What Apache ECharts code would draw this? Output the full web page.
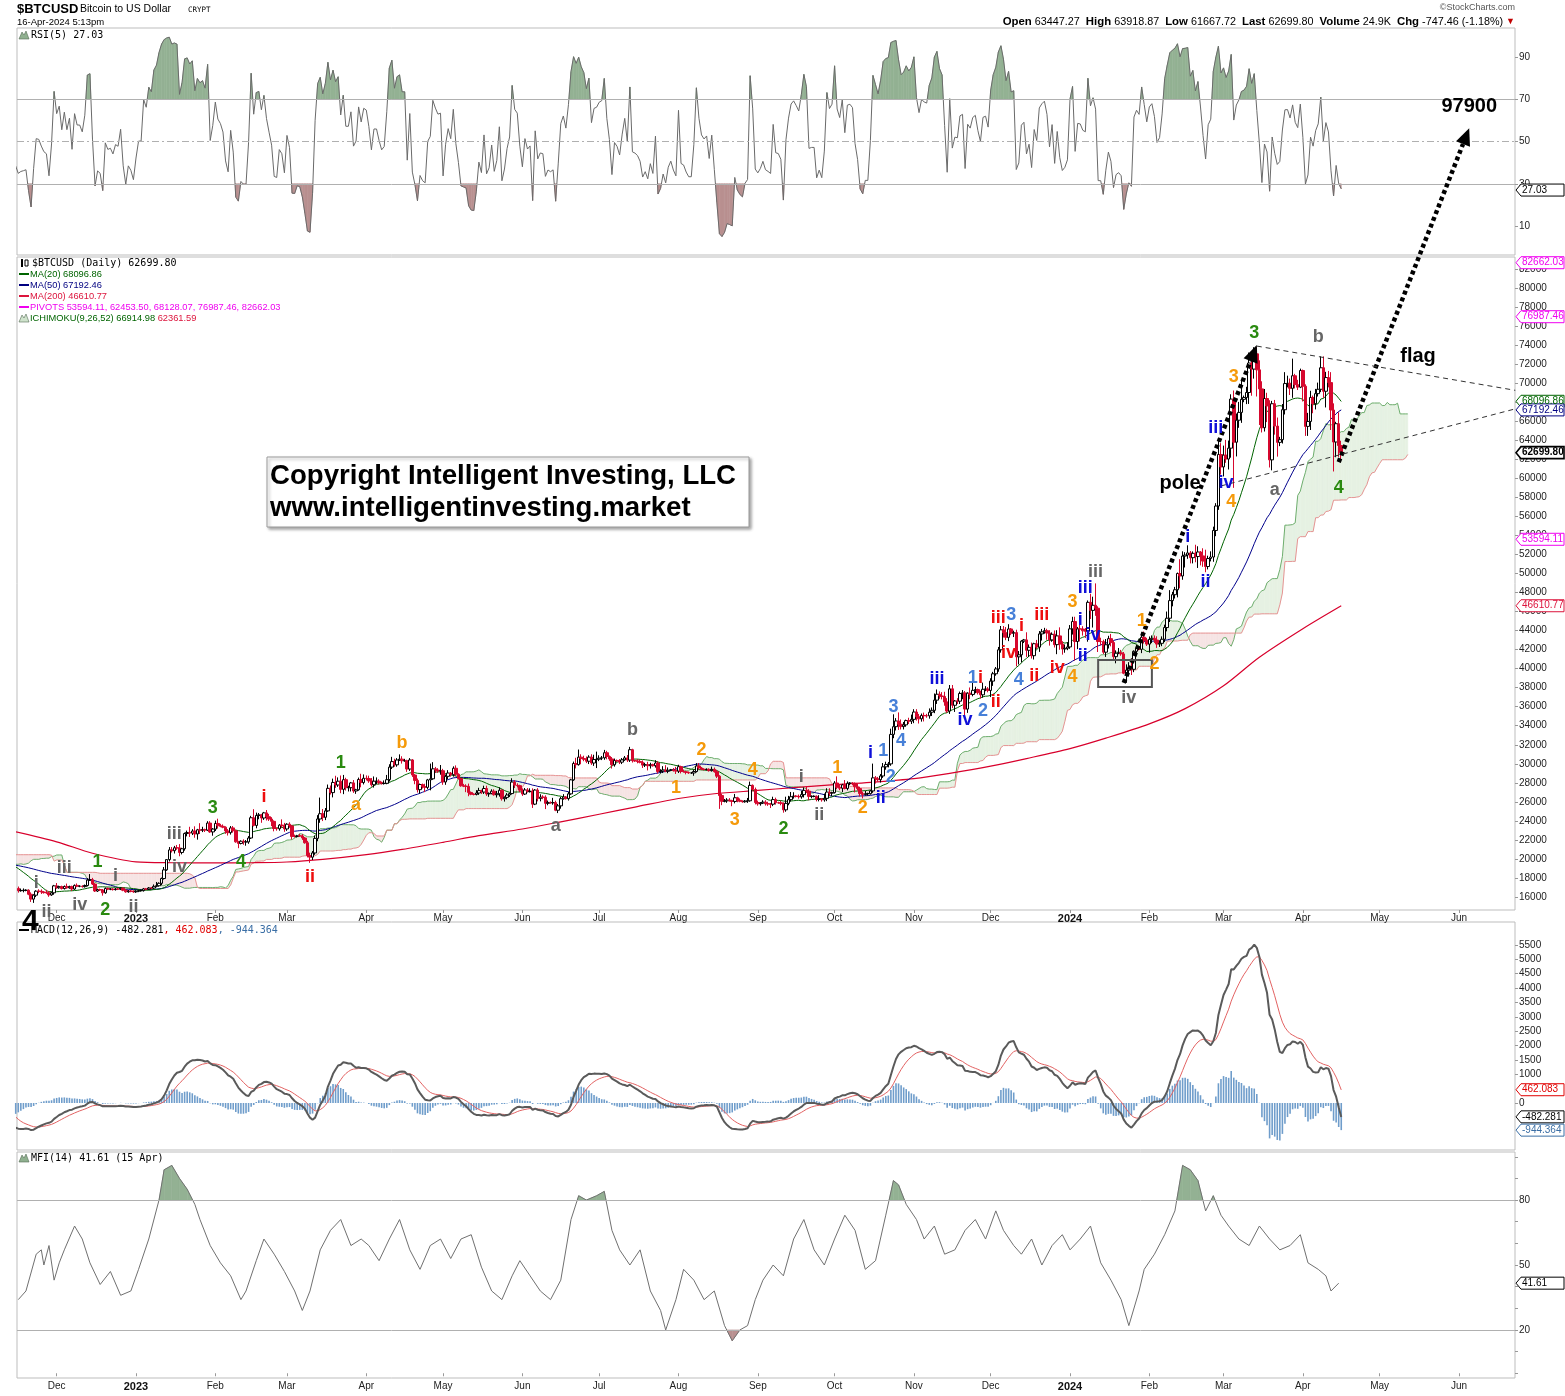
<!DOCTYPE html>
<html><head><meta charset="utf-8"><title>$BTCUSD</title>
<script src="https://cdn.jsdelivr.net/npm/echarts@6/dist/echarts.min.js"></script>
<style>html,body{margin:0;padding:0;background:#fff;}#chart{width:1565px;height:1396px;}</style>
</head><body><div id="chart"></div>
<script>
// ================= DATA =================
const startDate = '2022-08-29';
// daily closes in thousands of USD (open = previous close)
const closeK = [
20.30,19.81,20.05,
20.13,19.95,19.83,19.99,19.80,18.79,19.29,19.32,21.37,21.65,21.83,22.40,20.17,20.24,19.70,19.80,20.11,19.42,19.54,18.88,18.49,19.41,19.30,18.93,18.80,19.22,19.08,19.41,19.59,19.42,
19.31,19.06,19.63,20.34,20.16,19.96,19.53,19.42,19.45,19.14,19.05,19.16,19.38,19.19,19.07,19.27,19.55,19.33,19.13,19.04,19.17,19.21,19.57,19.33,20.09,20.77,20.29,20.60,20.82,20.63,20.49,
20.48,20.16,20.21,21.15,21.30,20.91,20.60,18.54,15.88,17.59,17.04,16.80,16.35,16.62,16.90,16.66,16.69,16.70,16.71,16.29,15.78,16.19,16.61,16.60,16.52,16.46,16.44,16.22,16.44,17.17,
16.97,17.09,16.89,17.11,16.97,17.09,16.84,17.22,17.13,17.13,17.09,17.21,17.78,17.81,17.36,16.63,16.78,16.74,16.44,16.90,16.82,16.83,16.78,16.84,16.83,16.92,16.71,16.55,16.63,16.60,16.54,
16.61,16.67,16.67,16.85,16.83,16.95,16.94,17.12,17.18,17.44,17.94,18.85,19.93,20.95,20.87,21.17,21.16,20.68,21.07,22.67,22.78,22.71,22.93,22.63,23.06,23.02,23.08,23.03,23.77,22.84,23.14,
23.73,23.49,23.43,23.33,22.94,22.76,23.26,22.96,21.80,21.63,21.86,21.79,21.79,22.20,24.33,23.52,24.57,24.63,24.30,24.84,24.44,24.19,23.95,23.20,23.17,23.56,23.49,23.15,
23.65,23.47,22.36,22.35,22.43,22.41,22.20,21.70,20.36,20.19,20.63,22.16,24.20,24.75,24.38,25.05,27.42,26.97,28.04,27.77,28.17,27.31,28.33,27.49,27.49,27.99,27.14,27.27,28.35,28.03,28.48,
28.45,28.20,27.80,28.17,28.17,28.03,27.92,27.95,28.33,29.65,30.23,29.89,30.40,30.49,30.32,30.32,29.45,30.40,28.82,28.25,27.28,27.82,27.60,27.52,28.31,28.42,29.47,29.34,29.25,29.27,
28.09,28.68,29.03,28.85,29.53,28.90,28.45,27.69,27.65,27.62,26.99,26.80,26.78,26.93,27.18,27.03,27.40,26.83,26.89,27.12,26.75,26.85,27.22,26.33,26.47,26.72,26.87,28.08,27.75,27.70,27.22,
26.82,27.25,27.08,27.12,25.76,27.24,26.35,26.50,26.48,25.84,25.94,25.90,25.92,25.12,25.58,26.33,26.51,26.34,26.84,28.31,30.03,29.91,30.70,30.55,30.47,30.27,30.70,30.08,30.45,30.48,
30.59,30.62,31.16,30.77,30.51,29.90,30.35,30.29,30.17,30.41,30.62,30.39,31.48,30.33,30.30,30.25,30.15,29.86,29.91,29.80,29.91,29.80,30.08,29.18,29.23,29.35,29.21,29.32,29.36,29.28,29.23,
29.70,29.19,29.17,29.09,29.04,29.04,29.19,29.77,29.56,29.43,29.40,29.42,29.28,29.41,29.17,28.70,26.66,26.05,26.10,26.19,26.12,26.04,26.43,26.16,26.06,26.01,26.09,26.11,27.73,27.30,25.93,
25.80,25.87,25.97,25.81,25.78,25.75,26.24,25.91,25.90,25.84,25.16,25.84,26.23,26.54,26.61,26.57,26.53,26.76,27.21,27.13,26.57,26.58,26.58,26.25,26.30,26.22,26.37,27.03,26.91,26.97,
27.98,27.53,27.43,27.79,27.41,27.95,27.97,27.94,27.59,27.39,26.87,26.76,26.86,26.86,27.15,28.52,28.42,28.33,28.72,29.68,29.92,29.99,33.09,33.90,34.50,34.16,33.91,34.09,34.54,34.48,34.67,
35.44,34.94,34.73,35.08,35.05,35.04,35.42,35.62,36.69,37.31,37.13,37.07,36.50,35.54,37.88,36.15,36.60,36.58,37.39,37.45,35.75,37.42,37.29,37.72,37.80,37.48,37.25,37.83,37.86,37.71,
38.69,39.46,39.97,41.98,44.08,43.77,43.29,44.17,43.72,43.79,41.24,41.45,42.89,43.02,41.93,42.24,41.36,42.62,42.26,43.65,43.87,43.99,43.74,43.02,43.61,42.52,43.44,42.58,42.07,42.14,42.28,
44.18,44.95,42.85,44.18,44.16,43.97,43.93,46.97,46.12,46.66,46.35,42.85,42.84,41.73,42.51,43.15,42.74,41.26,41.62,41.67,41.55,39.51,39.85,40.08,39.93,41.82,42.12,42.03,43.30,42.94,42.58,
43.08,43.19,43.00,42.58,42.66,43.09,44.32,45.30,47.15,47.77,48.29,50.00,49.74,51.83,51.94,52.16,51.66,52.12,51.78,52.26,51.85,51.30,50.73,51.57,51.73,54.52,57.09,62.50,61.20,
62.44,62.03,63.17,68.33,63.80,66.11,66.93,68.30,68.50,69.02,72.12,71.48,73.08,71.40,69.40,65.32,68.39,67.61,61.94,67.84,65.49,63.78,64.06,67.21,69.96,69.99,69.46,70.78,69.85,69.58,71.33,
69.68,65.46,65.98,68.50,67.84,68.90,69.36,71.62,69.15,70.59,70.06,67.18,63.82,65.74,63.45,62.70
];
// upper wick above the body, in hundreds of USD
const upWick = [
4,3,5,
3,2,1,1,2,3,2,3,2,3,3,3,2,3,2,2,2,2,2,1,5,6,2,2,1,3,12,6,3,3,
2,2,1,2,3,1,2,1,1,2,1,1,1,8,2,1,2,4,1,2,1,1,1,3,2,2,5,2,2,2,2,
3,3,3,2,3,2,3,1,1,5,1,2,1,3,3,2,2,2,1,1,2,1,1,2,2,1,3,2,1,1,
3,1,1,1,3,1,1,1,2,1,1,1,2,6,2,1,1,1,1,1,1,1,1,1,1,1,1,1,1,1,1,
1,1,1,1,1,1,1,2,4,1,1,3,0,3,3,2,3,4,1,1,2,6,2,5,1,7,3,1,2,2,1,
3,5,2,2,1,2,2,2,1,1,1,2,2,2,2,9,3,2,1,1,3,3,2,1,1,1,6,3,
1,2,1,2,1,2,2,1,2,3,2,3,4,17,5,3,4,3,4,7,4,6,5,2,2,1,3,1,2,6,4,
3,3,3,5,4,2,1,3,5,3,5,3,2,5,3,2,1,2,1,1,2,1,1,3,1,16,7,2,2,6,
2,2,3,1,2,3,1,1,2,2,3,1,1,3,3,1,3,3,1,2,2,3,3,1,1,2,1,4,2,2,1,
2,2,2,3,3,1,2,3,2,2,2,1,5,2,2,2,3,1,2,1,2,6,8,3,3,3,2,3,5,8,
3,2,3,2,1,2,2,1,2,2,2,3,3,1,1,2,2,2,2,3,2,1,3,2,2,4,5,3,1,2,4,
2,1,2,1,1,1,2,3,3,1,1,1,1,3,2,2,1,2,2,2,2,1,4,1,2,1,1,3,4,1,2,
2,1,2,2,2,1,3,2,1,2,1,7,4,5,4,1,2,4,3,4,2,1,1,1,4,1,5,4,4,1,
2,7,3,1,5,2,1,1,1,3,2,2,3,1,1,15,2,2,2,4,3,2,6,13,3,9,5,3,1,3,5,
3,3,3,2,3,2,4,3,7,5,3,4,5,4,4,4,1,3,2,3,2,1,6,10,3,1,2,7,3,2,
3,2,2,3,4,4,6,5,1,2,3,4,1,1,8,3,5,1,4,3,3,3,2,3,2,4,6,9,3,4,5,
4,5,5,2,9,3,3,2,9,9,23,2,4,2,6,3,5,2,3,5,3,2,6,6,10,1,4,2,5,6,3,
3,3,3,4,3,3,3,7,11,3,3,1,15,5,3,8,2,2,9,6,1,8,12,3,6,4,3,15,12,
10,16,8,5,9,7,11,20,2,6,11,8,7,7,10,8,10,6,6,3,4,9,3,6,12,8,5,18,2,5,2,
1,2,9,7,2,5,7,12,12,6,7,11,7,2,12,5
];
// lower wick below the body, in hundreds of USD
const dnWick = [
3,2,4,
3,2,1,3,2,2,2,2,2,2,3,2,2,3,3,4,2,2,3,3,3,1,3,3,2,2,2,7,3,3,
2,3,1,2,3,2,2,1,1,1,2,2,6,2,1,1,1,2,2,2,3,1,1,1,1,2,1,4,1,4,2,
2,2,2,3,2,1,3,14,3,1,6,2,6,3,3,2,1,2,1,1,3,4,2,2,2,1,1,2,1,2,
1,1,1,1,1,1,2,1,1,1,1,1,1,1,1,1,1,1,3,1,1,1,1,1,1,1,1,1,1,1,1,
1,1,1,1,1,1,1,1,1,1,2,1,1,2,2,3,2,4,2,2,3,4,2,4,6,4,2,2,1,1,4,
2,3,1,1,3,3,2,2,1,5,1,3,4,2,1,1,3,4,5,2,4,2,5,3,2,2,2,3,
2,2,3,1,1,1,2,1,2,6,3,2,3,4,4,3,1,2,5,3,2,4,5,3,4,4,2,3,1,5,2,
2,2,2,3,3,2,1,1,1,2,2,2,2,1,3,1,3,2,2,4,3,4,2,5,2,11,1,3,2,4,
3,3,3,2,2,2,1,1,1,6,4,1,1,1,2,2,2,2,3,1,1,3,3,2,3,2,2,1,3,2,2,
2,1,1,1,4,1,3,3,2,6,2,1,2,1,3,3,1,1,2,1,1,4,1,6,2,2,3,2,3,9,
2,2,2,3,2,4,2,1,2,2,1,2,2,2,1,2,1,3,2,5,3,1,2,2,2,2,1,2,1,1,3,
2,2,1,2,1,1,3,1,2,1,1,1,1,1,1,2,14,4,1,2,1,5,2,2,1,1,1,2,1,1,2,
2,2,1,2,2,4,2,2,1,2,3,2,2,2,2,1,2,2,3,2,4,2,1,2,2,2,2,3,3,3,
1,2,2,4,1,2,2,2,6,2,3,4,1,2,1,2,5,2,3,2,3,3,2,4,4,6,3,3,2,3,3,
4,4,5,3,6,2,3,4,3,4,3,3,4,2,3,3,7,3,3,6,7,4,5,2,3,2,4,3,2,2,
7,5,2,3,3,5,3,4,2,4,10,8,8,2,7,7,3,4,2,5,7,2,7,6,2,3,10,6,6,4,2,
2,6,20,8,13,5,7,11,9,18,8,11,4,2,5,4,4,4,7,1,2,1,10,6,6,3,2,1,4,3,2,
9,4,3,4,3,3,3,4,4,6,4,8,13,4,12,4,6,6,6,12,10,6,6,3,3,5,6,4,8,
10,4,11,10,48,15,8,11,3,7,12,28,10,28,38,5,4,17,8,11,9,15,4,4,5,4,7,10,4,3,1,
16,10,10,9,10,6,3,3,7,17,5,21,31,16,12,10
];
// 200-day moving average
const ma200Pts = [
['2022-11-15',22850],['2022-12-01',21800],['2022-12-15',20600],['2023-01-01',19700],['2023-01-15',19600],['2023-02-01',19580],
['2023-02-15',19600],['2023-03-01',19680],['2023-03-15',19950],['2023-04-01',20450],['2023-04-15',21000],['2023-05-01',21750],
['2023-05-15',22450],['2023-06-01',23150],['2023-06-15',23850],['2023-07-01',24700],['2023-07-15',25450],['2023-08-01',26350],
['2023-08-15',26850],['2023-09-01',27200],['2023-09-15',27500],['2023-10-01',27800],['2023-10-15',28050],['2023-11-01',28450],
['2023-11-15',29000],['2023-12-01',29750],['2023-12-15',30550],['2024-01-01',31600],['2024-01-15',32700],['2024-02-01',34200],
['2024-02-15',35800],['2024-03-01',38200],['2024-03-15',41200],['2024-04-01',44200],['2024-04-16',46610.77]
];
// MFI(14)
const mfiPts = [
['2022-11-16',34],['2022-11-19',38],['2022-11-23',55],['2022-11-25',57],['2022-11-26',50],['2022-11-28',59],['2022-11-30',43],
['2022-12-02',51],['2022-12-04',57],['2022-12-08',68],['2022-12-11',62],['2022-12-14',51],['2022-12-18',41],['2022-12-22',47],
['2022-12-26',36],['2022-12-30',38],['2023-01-02',48],['2023-01-06',62],['2023-01-10',80],['2023-01-12',94],['2023-01-15',96],
['2023-01-18',90],['2023-01-21',85],['2023-01-24',78],['2023-01-26',71],['2023-01-30',59],['2023-02-03',51],['2023-02-07',45],
['2023-02-11',34],['2023-02-13',38],['2023-02-17',52],['2023-02-20',62],['2023-02-24',55],['2023-02-28',47],['2023-03-04',38],
['2023-03-07',29],['2023-03-10',38],['2023-03-14',57],['2023-03-18',66],['2023-03-22',71],['2023-03-26',59],['2023-03-30',62],
['2023-04-02',59],['2023-04-06',52],['2023-04-10',62],['2023-04-14',71],['2023-04-18',57],['2023-04-22',48],['2023-04-26',59],
['2023-04-30',62],['2023-05-04',53],['2023-05-08',62],['2023-05-12',64],['2023-05-16',49],['2023-05-20',38],['2023-05-24',34],
['2023-05-28',45],['2023-05-31',52],['2023-06-04',45],['2023-06-08',38],['2023-06-12',34],['2023-06-16',43],['2023-06-20',71],
['2023-06-23',82],['2023-06-26',80],['2023-06-30',82],['2023-07-03',84],['2023-07-06',66],['2023-07-09',57],['2023-07-13',50],
['2023-07-17',57],['2023-07-21',38],['2023-07-25',29],['2023-07-27',20],['2023-07-31',34],['2023-08-03',48],['2023-08-07',43],
['2023-08-11',34],['2023-08-15',38],['2023-08-19',22],['2023-08-22',15],['2023-08-25',20],['2023-08-28',22],['2023-08-31',34],
['2023-09-03',43],['2023-09-07',50],['2023-09-11',45],['2023-09-15',62],['2023-09-19',71],['2023-09-23',57],['2023-09-27',50],
['2023-10-01',62],['2023-10-05',73],['2023-10-09',66],['2023-10-13',48],['2023-10-17',52],['2023-10-21',73],['2023-10-24',89],
['2023-10-26',87],['2023-10-29',78],['2023-11-02',71],['2023-11-05',62],['2023-11-09',68],['2023-11-13',55],['2023-11-17',57],
['2023-11-21',66],['2023-11-25',71],['2023-11-29',62],['2023-12-03',75],['2023-12-06',66],['2023-12-10',59],['2023-12-13',55],
['2023-12-17',62],['2023-12-21',50],['2023-12-25',59],['2023-12-29',64],['2024-01-01',57],['2024-01-05',62],['2024-01-09',68],
['2024-01-13',51],['2024-01-17',43],['2024-01-21',34],['2024-01-24',22],['2024-01-28',38],['2024-01-30',48],['2024-02-03',55],
['2024-02-07',64],['2024-02-11',75],['2024-02-14',96],['2024-02-17',94],['2024-02-20',89],['2024-02-23',75],['2024-02-26',82],
['2024-02-29',73],['2024-03-03',68],['2024-03-07',62],['2024-03-11',59],['2024-03-15',68],['2024-03-19',62],['2024-03-23',57],
['2024-03-27',59],['2024-03-31',64],['2024-04-03',51],['2024-04-07',48],['2024-04-10',45],['2024-04-12',38],['2024-04-15',41.61]
];
// axis tick labels
const priceTicks = [16000,18000,20000,22000,24000,26000,28000,30000,32000,34000,36000,38000,40000,42000,44000,46000,48000,50000,52000,54000,56000,58000,60000,62000,64000,66000,68000,70000,72000,74000,76000,78000,80000,82000];
const rsiTicks = [10,30,50,70,90];
const macdTicks = [0,1000,1500,2000,2500,3000,3500,4000,4500,5000,5500];
const mfiTicks = [20,50,80];
const mfiMinorTicks = [0,10,20,30,40,50,60,70,80,90,100];
const monthTicks = ['2022-12-01','2023-01-01','2023-02-01','2023-03-01','2023-04-01','2023-05-01','2023-06-01','2023-07-01','2023-08-01','2023-09-01','2023-10-01','2023-11-01','2023-12-01','2024-01-01','2024-02-01','2024-03-01','2024-04-01','2024-05-01','2024-06-01'];
const monthNames = ['Jan','Feb','Mar','Apr','May','Jun','Jul','Aug','Sep','Oct','Nov','Dec'];
// wave annotations: [date, price, text, colour key]
const waveLabels = [
['2022-11-23',17470,'i','g'],['2022-11-27',14420,'ii','g'],['2022-12-04',19050,'iii','g'],['2022-12-10',15160,'iv','g'],
['2022-12-17',19680,'1','G'],['2022-12-20',14640,'2','G'],['2022-12-24',18210,'i','g'],['2022-12-31',14950,'ii','g'],
['2023-01-16',22620,'iii','g'],['2023-01-18',19150,'iv','g'],['2023-01-31',25350,'3','G'],['2023-02-11',19680,'4','G'],
['2023-02-20',26510,'i','r'],['2023-03-10',18100,'ii','r'],['2023-03-22',30080,'1','G'],['2023-03-28',25670,'a','o'],
['2023-04-15',32190,'b','o'],['2023-06-14',23460,'a','g'],['2023-07-14',33550,'b','g'],['2023-07-31',27460,'1','o'],
['2023-08-10',31450,'2','o'],['2023-08-23',24090,'3','o'],['2023-08-30',29350,'4','o'],['2023-09-11',23150,'2','G'],
['2023-09-18',28610,'i','g'],['2023-09-25',24620,'ii','g'],['2023-10-02',29560,'1','o'],['2023-10-12',25350,'2','o'],
['2023-10-15',31130,'i','b'],['2023-10-19',26400,'ii','b'],['2023-10-20',31350,'1','l'],['2023-10-23',28610,'2','l'],
['2023-10-24',35970,'3','l'],['2023-10-27',32400,'4','l'],['2023-11-10',38910,'iii','b'],['2023-11-21',34600,'iv','b'],
['2023-11-24',39020,'1','l'],['2023-11-27',39020,'i','r'],['2023-11-28',35550,'2','l'],['2023-12-03',36490,'ii','r'],
['2023-12-04',45320,'iii','r'],['2023-12-08',41640,'iv','r'],['2023-12-09',45640,'3','l'],['2023-12-12',38810,'4','l'],
['2023-12-13',44480,'i','r'],['2023-12-18',39230,'ii','r'],['2023-12-21',45640,'iii','r'],['2023-12-27',40070,'iv','r'],
['2024-01-02',39120,'4','o'],['2024-01-02',47000,'3','o'],['2024-01-05',45110,'i','b'],['2024-01-06',41330,'ii','b'],
['2024-01-07',48480,'iii','b'],['2024-01-10',43540,'iv','b'],['2024-01-11',50160,'iii','g'],['2024-01-24',36910,'iv','g'],
['2024-01-29',45010,'1','o'],['2024-02-03',40490,'2','o'],['2024-02-13',59510,'pole','k'],['2024-02-16',53840,'i','b'],
['2024-02-23',49110,'ii','b'],['2024-02-27',65290,'iii','b'],['2024-03-02',59510,'iv','b'],['2024-03-04',57510,'4','o'],
['2024-03-05',70650,'3','o'],['2024-03-13',75280,'3','G'],['2024-03-21',58780,'a','g'],['2024-04-07',74860,'b','g'],
['2024-04-15',58990,'4','G'],['2024-05-16',72760,'flag','k'],['2024-06-05',99030,'97900','k']
];
// drawn trend lines: [date1, price1, date2, price2, kind]
const trendLines = [
['2024-01-22',38500,'2024-03-14',74000,'arrow'],
['2024-04-15',61700,'2024-06-05',96800,'arrow'],
['2024-03-14',73900,'2024-06-23',69250,'dash'],
['2024-02-29',59200,'2024-06-23',67300,'dash'],
['2024-01-12',40900,'2024-02-02',38070,'box']
];
// right-edge value tags: [axis index, text, colour key]
const tagDefs = [
[1,'82662.03','m'],[1,'76987.46','m'],[1,'68096.86','G'],[1,'67192.46','n'],[1,'62699.80','k'],[1,'53594.11','m'],[1,'46610.77','c'],
[0,'27.03','k'],[2,'462.083','r'],[2,'-482.281','k'],[2,'-944.364','s'],[3,'41.61','k']
];

// ================= BUILD =================
const DAY = 86400000;
const D = s => { const p = s.split('-').map(Number); return Date.UTC(p[0], p[1]-1, p[2]); };
const XMIN = D('2022-11-15') + DAY*0.5, XMAX = D('2024-06-22') + DAY*0.9;
const N = Math.min(closeK.length, upWick.length, dnWick.length);
const T=[],O=[],C=[],H=[],L=[];
for (let i=0;i<N;i++){ const c=closeK[i]*1000, o=i?C[i-1]:c; T.push(D(startDate)+i*DAY); O.push(o); C.push(c);
  H.push(Math.max(o,c)+upWick[i]*100); L.push(Math.min(o,c)-dnWick[i]*100); }
let iv=0; while(iv<N && T[iv]<XMIN-DAY) iv++;
const sma = n => C.map((_,i)=> i<n-1 ? null : C.slice(i-n+1,i+1).reduce((a,b)=>a+b,0)/n);
const ema = (a,n) => { const k=2/(n+1); let e=null; return a.map(v=>{ if(v==null) return null; e = e==null ? v : v*k+e*(1-k); return e; }); };
function rsiCalc(n){ const out=new Array(N).fill(null); let g=0,l=0;
  for(let i=1;i<=n;i++){ const d=C[i]-C[i-1]; if(d>0) g+=d; else l-=d; } g/=n; l/=n; out[n]=100-100/(1+g/l);
  for(let i=n+1;i<N;i++){ const d=C[i]-C[i-1]; g=(g*(n-1)+Math.max(d,0))/n; l=(l*(n-1)+Math.max(-d,0))/n; out[i]= l===0?100:100-100/(1+g/l); }
  return out; }
const ma20=sma(20), ma50=sma(50);
const e12=ema(C,12), e26=ema(C,26); const macd=C.map((_,i)=>e12[i]-e26[i]); const sig=ema(macd,9); const hist=macd.map((v,i)=>v-sig[i]);
const rsi=rsiCalc(5);
const mid=(i,n)=>{ let hi=-1e12,lo=1e12; for(let j=Math.max(0,i-n+1);j<=i;j++){ if(H[j]>hi) hi=H[j]; if(L[j]<lo) lo=L[j]; } return (hi+lo)/2; };
const cloud=[]; for(let i=51;i<N;i++) cloud.push([T[i]+26*DAY,(mid(i,9)+mid(i,26))/2, mid(i,52)]);
const cloudVis = cloud.filter(p=>p[0]>=XMIN-2*DAY);
const cloudSeg=[]; for(let k=0;k<cloudVis.length-1;k++){ const a=cloudVis[k], b=cloudVis[k+1]; cloudSeg.push([a[0],a[1],a[2],b[0],b[1],b[2]]); }
const lineData = arr => { const r=[]; for(let i=Math.max(0,iv-1);i<N;i++) if(arr[i]!=null) r.push([T[i],arr[i]]); return r; };
const candles=[]; for(let i=iv;i<N;i++) candles.push([T[i],O[i],C[i],L[i],H[i]]);
const segs = pts => { const r=[]; for(let k=0;k<pts.length-1;k++) r.push([pts[k][0],pts[k][1],pts[k+1][0],pts[k+1][1]]); return r; };
const rsiPts = lineData(rsi);
const mfiData = mfiPts.map(p=>[D(p[0]),p[1]]);
const histData=[]; for(let i=iv;i<N;i++) histData.push([T[i],hist[i]]);

const FONT='Liberation Sans, Arial, sans-serif';
const LC={g:'#666666',G:'#2a8a10',r:'#ee0d0d',o:'#f59a0a',b:'#0f0fd8',l:'#4780d8',k:'#000000'};
const TC={m:'#f000f0',G:'#006400',n:'#000080',k:'#000000',c:'#dc143c',r:'#e00000',s:'#3a6ea5'};
const GREENFILL='#e6f1e3', PINKFILL='#f6e4e4';

function bandRender(params, api){
  const x0=api.value(0),a0=api.value(1),b0=api.value(2),x1=api.value(3),a1=api.value(4),b1=api.value(5);
  const d0=a0-b0, d1=a1-b1, ch=[];
  const poly=(pts,f)=>ch.push({type:'polygon',shape:{points:pts.map(p=>api.coord(p))},style:{fill:f,stroke:f,lineWidth:0.6},silent:true});
  if(d0*d1>=0) poly([[x0,a0],[x1,a1],[x1,b1],[x0,b0]], (d0+d1)>=0?GREENFILL:PINKFILL);
  else { const f=d0/(d0-d1), xc=x0+f*(x1-x0), yc=a0+f*(a1-a0);
    poly([[x0,a0],[xc,yc],[x0,b0]], d0>0?GREENFILL:PINKFILL); poly([[xc,yc],[x1,a1],[x1,b1]], d1>0?GREENFILL:PINKFILL); }
  return {type:'group',children:ch};
}
function threshRender(th, above, color){ return function(params, api){
  const x0=api.value(0),r0=api.value(1),x1=api.value(2),r1=api.value(3);
  const s0=above?r0-th:th-r0, s1=above?r1-th:th-r1;
  if(s0<=0 && s1<=0) return {type:'group',children:[]};
  let pts;
  if(s0>0 && s1>0) pts=[[x0,th],[x0,r0],[x1,r1],[x1,th]];
  else { const f=s0/(s0-s1), xc=x0+f*(x1-x0); pts = s0>0 ? [[x0,th],[x0,r0],[xc,th]] : [[xc,th],[x1,r1],[x1,th]]; }
  return {type:'polygon',shape:{points:pts.map(p=>api.coord(p))},style:{fill:color,stroke:color,lineWidth:0.6}};
};}
function trendRender(params, api){
  const kind=trendLines[params.dataIndex][4];
  const p0=api.coord([api.value(0),api.value(1)]), p1=api.coord([api.value(2),api.value(3)]);
  if(kind==='box') return {type:'rect',shape:{x:Math.min(p0[0],p1[0]),y:Math.min(p0[1],p1[1]),width:Math.abs(p1[0]-p0[0]),height:Math.abs(p1[1]-p0[1])},style:{fill:'none',stroke:'#555',lineWidth:2}};
  if(kind==='dash') return {type:'line',shape:{x1:p0[0],y1:p0[1],x2:p1[0],y2:p1[1]},style:{stroke:'#333',lineWidth:1,lineDash:[5,4]}};
  const dx=p1[0]-p0[0], dy=p1[1]-p0[1], len=Math.hypot(dx,dy), ux=dx/len, uy=dy/len, nx=-uy, ny=ux;
  const hl=17, hw=7.5, bx=p1[0]-ux*hl, by=p1[1]-uy*hl;
  return {type:'group',children:[
    {type:'line',shape:{x1:p0[0],y1:p0[1],x2:bx,y2:by},style:{stroke:'#000',lineWidth:4.5,lineDash:[4,3.2],lineCap:'butt'}},
    {type:'polygon',shape:{points:[[p1[0],p1[1]],[bx+nx*hw,by+ny*hw],[bx-nx*hw,by-ny*hw]]},style:{fill:'#000'}}
  ]};
}
function labelRender(params, api){
  const w=waveLabels[params.dataIndex];
  const p=api.coord([api.value(0),api.value(1)]);
  const size = w[2].length>3 ? 20 : 18;
  return {type:'text',x:p[0],y:p[1],style:{text:w[2],fill:LC[w[3]],font:'bold '+size+'px '+FONT,align:'center',verticalAlign:'middle'}};
}

const grids=[{top:28,height:227},{top:257,height:653},{top:922,height:228},{top:1152,height:226}].map(g=>Object.assign({left:17,width:1498,show:true,borderColor:'#bdbdbd',borderWidth:1,backgroundColor:'#fff',containLabel:false,outerBoundsMode:'none'},g));
const mTicks = monthTicks.map(D);
function xAx(gi, show){ return {type:'value',gridIndex:gi,min:XMIN,max:XMAX,scale:true,splitLine:{show:false},axisLine:{show:false},
  axisTick:{show:show,customValues:mTicks,length:3,lineStyle:{color:'#999'}},
  axisLabel:{show:show,customValues:mTicks,margin:3,fontSize:10,color:'#222',fontFamily:FONT,hideOverlap:false,showMinLabel:true,showMaxLabel:true,
    formatter:v=>{ const d=new Date(v); const m=d.getUTCMonth(); return m===0?'{y|'+d.getUTCFullYear()+'}':monthNames[m]; },
    rich:{y:{fontWeight:'bold',fontSize:11,color:'#111',fontFamily:FONT}}}}; }
function yAx(gi,min,max,ticks,minor){ return {type:'value',gridIndex:gi,position:'right',min:min,max:max,scale:true,splitLine:{show:false},axisLine:{show:false},
  axisTick:{show:true,length:3,customValues:minor||ticks,lineStyle:{color:'#999'}},
  axisLabel:{show:true,customValues:ticks,fontSize:10,color:'#222',fontFamily:FONT,margin:4,hideOverlap:false,formatter:v=>String(v)}}; }

const hline=(v,dash)=>({yAxis:v,lineStyle:{color:'#b0b0b0',width:1,type:dash||'solid'}});
const option = {
  animation:false, backgroundColor:'#fff',
  grid:grids,
  xAxis:[xAx(0,false),xAx(1,true),xAx(2,false),xAx(3,true)],
  yAxis:[yAx(0,-3.7,103.7,rsiTicks),yAx(1,14634,83261,priceTicks),yAx(2,-1636,6300,macdTicks),yAx(3,-2.2,102.2,mfiTicks,mfiMinorTicks)],
  series:[
    {type:'custom',xAxisIndex:0,yAxisIndex:0,renderItem:threshRender(70,true,'#93b193'),data:segs(rsiPts),encode:{x:[0,2],y:[1,3]},clip:true,silent:true,z:1},
    {type:'custom',xAxisIndex:0,yAxisIndex:0,renderItem:threshRender(30,false,'#b99090'),data:segs(rsiPts),encode:{x:[0,2],y:[1,3]},clip:true,silent:true,z:1},
    {type:'line',xAxisIndex:0,yAxisIndex:0,data:rsiPts,showSymbol:false,lineStyle:{color:'#6a6a6a',width:1},silent:true,z:3,
      markLine:{silent:true,symbol:['none','none'],label:{show:false},data:[hline(70),hline(30),hline(50,[7,3,2,3])]}},
    {type:'custom',xAxisIndex:1,yAxisIndex:1,renderItem:bandRender,data:cloudSeg,encode:{x:[0,3],y:[1,2,4,5]},clip:true,silent:true,z:1},
    {type:'line',xAxisIndex:1,yAxisIndex:1,data:cloudVis.map(p=>[p[0],p[1]]),showSymbol:false,lineStyle:{color:'#6fae6f',width:1},silent:true,z:2},
    {type:'line',xAxisIndex:1,yAxisIndex:1,data:cloudVis.map(p=>[p[0],p[2]]),showSymbol:false,lineStyle:{color:'#e69494',width:1},silent:true,z:2},
    {type:'line',xAxisIndex:1,yAxisIndex:1,data:ma200Pts.map(p=>[D(p[0]),p[1]]),showSymbol:false,smooth:0.3,lineStyle:{color:'#d8002c',width:1.2},silent:true,z:2},
    {type:'line',xAxisIndex:1,yAxisIndex:1,data:lineData(ma50),showSymbol:false,lineStyle:{color:'#00008b',width:1},silent:true,z:2},
    {type:'line',xAxisIndex:1,yAxisIndex:1,data:lineData(ma20),showSymbol:false,lineStyle:{color:'#006400',width:1},silent:true,z:2},
    {type:'candlestick',xAxisIndex:1,yAxisIndex:1,data:candles,encode:{x:0,y:[1,2,3,4]},barWidth:3,large:false,silent:true,z:3,
      itemStyle:{color:'#ffffff',color0:'#d6082e',borderColor:'#000000',borderColor0:'#d6082e',borderWidth:1}},
    {type:'custom',xAxisIndex:1,yAxisIndex:1,renderItem:trendRender,data:trendLines.map(t=>[D(t[0]),t[1],D(t[2]),t[3]]),encode:{x:[0,2],y:[1,3]},clip:false,silent:true,z:6},
    {type:'custom',xAxisIndex:1,yAxisIndex:1,renderItem:labelRender,data:waveLabels.map(w=>[D(w[0]),w[1]]),encode:{x:0,y:1},clip:false,silent:true,z:8},
    {type:'bar',xAxisIndex:2,yAxisIndex:2,data:histData,barWidth:1.6,itemStyle:{color:'#6f9dcb'},silent:true,z:1},
    {type:'line',xAxisIndex:2,yAxisIndex:2,data:lineData(sig),showSymbol:false,lineStyle:{color:'#e26262',width:1},silent:true,z:2},
    {type:'line',xAxisIndex:2,yAxisIndex:2,data:lineData(macd),showSymbol:false,lineStyle:{color:'#5a5a5a',width:2},silent:true,z:3},
    {type:'custom',xAxisIndex:3,yAxisIndex:3,renderItem:threshRender(80,true,'#93b193'),data:segs(mfiData),encode:{x:[0,2],y:[1,3]},clip:true,silent:true,z:1},
    {type:'custom',xAxisIndex:3,yAxisIndex:3,renderItem:threshRender(20,false,'#b99090'),data:segs(mfiData),encode:{x:[0,2],y:[1,3]},clip:true,silent:true,z:1},
    {type:'line',xAxisIndex:3,yAxisIndex:3,data:mfiData,showSymbol:false,lineStyle:{color:'#707070',width:1},silent:true,z:3,
      markLine:{silent:true,symbol:['none','none'],label:{show:false},data:[hline(80),hline(20)]}}
  ]
};
const chart = echarts.init(document.getElementById('chart'), null, {renderer:'canvas'});
chart.setOption(option);

const txt=(x,y,text,font,fill,align,extra)=>({type:'text',x:x,y:y,z:50,silent:true,style:Object.assign({text:text,font:font,fill:fill||'#000',align:align||'left',verticalAlign:'middle'},extra||{})});
const MONO='10px DejaVu Sans Mono';
const G=[];
G.push(txt(17,9,'$BTCUSD','bold 13px '+FONT,'#000'));
G.push(txt(80,9,'Bitcoin to US Dollar','10.5px '+FONT,'#000'));
G.push(txt(188,10,'CRYPT','7.5px DejaVu Sans Mono','#000'));
G.push(txt(17,22,'16-Apr-2024 5:13pm','9.5px '+FONT,'#000'));
G.push(txt(1515,8,'\u00A9StockCharts.com','9px '+FONT,'#555','right'));
G.push({type:'text',x:1515,y:22,z:50,silent:true,style:{text:'{b|Open} 63447.27  {b|High} 63918.87  {b|Low} 61667.72  {b|Last} 62699.80  {b|Volume} 24.9K  {b|Chg} -747.46 (-1.18%) {r|\u25BC}',
  font:'10.8px '+FONT,fill:'#000',align:'right',verticalAlign:'middle',rich:{b:{font:'bold 11.4px '+FONT,fill:'#000'},r:{font:'9px '+FONT,fill:'#c00000'}}}});
const mountain=(x,y,c)=>({type:'polygon',z:50,silent:true,shape:{points:[[x,y+4],[x+3,y-3],[x+5,y],[x+7,y-4],[x+10,y+4]]},style:{fill:c,stroke:'#556b55',lineWidth:0.6}});
G.push(mountain(19,35,'#8fb08f')); G.push(txt(31,35,'RSI(5) 27.03',MONO,'#000'));
G.push(txt(32,263,'$BTCUSD (Daily) 62699.80',MONO,'#000'));
G.push({type:'rect',z:50,silent:true,shape:{x:21,y:259,width:2,height:8},style:{fill:'#000'}});
G.push({type:'rect',z:50,silent:true,shape:{x:25,y:260,width:3,height:6},style:{fill:'#fff',stroke:'#000',lineWidth:1}});
const legendLines=[[274,'MA(20) 68096.86','#006400'],[285,'MA(50) 67192.46','#000080'],[296,'MA(200) 46610.77','#dc143c'],[307,'PIVOTS 53594.11, 62453.50, 68128.07, 76987.46, 82662.03','#f000f0']];
legendLines.forEach(l=>{ G.push({type:'line',z:50,silent:true,shape:{x1:19,y1:l[0],x2:29,y2:l[0]},style:{stroke:l[2],lineWidth:2}}); G.push(txt(30,l[0],l[1],'9.3px '+FONT,l[2])); });
G.push(mountain(19,318,'#cfe3cc'));
G.push({type:'text',x:30,y:318,z:50,silent:true,style:{text:'ICHIMOKU(9,26,52) 66914.98 {r|62361.59}',font:'9.3px '+FONT,fill:'#006400',align:'left',verticalAlign:'middle',rich:{r:{fill:'#dc143c',font:'9.3px '+FONT}}}});
G.push({type:'line',z:50,silent:true,shape:{x1:19,y1:930,x2:29,y2:930},style:{stroke:'#000',lineWidth:2}});
G.push({type:'text',x:31,y:930,z:50,silent:true,style:{text:'MACD(12,26,9) -482.281{r|, 462.083}{s|, -944.364}',font:MONO,fill:'#000',align:'left',verticalAlign:'middle',
  rich:{r:{fill:'#e00000',font:MONO},s:{fill:'#3a6ea5',font:MONO}}}});
G.push(mountain(19,1158,'#8fb08f')); G.push(txt(31,1158,'MFI(14) 41.61 (15 Apr)',MONO,'#000'));
G.push({type:'rect',z:40,silent:true,shape:{x:267,y:457,width:482,height:70},style:{fill:'#fff',stroke:'#9a9a9a',lineWidth:1,shadowBlur:3,shadowOffsetX:2,shadowOffsetY:2,shadowColor:'rgba(0,0,0,0.35)'}});
G.push(txt(270,476,'Copyright Intelligent Investing, LLC','bold 27.6px '+FONT,'#000'));
G.push(txt(270,508,'www.intelligentinvesting.market','bold 27.6px '+FONT,'#000'));
G.push(txt(22,922,'4','bold 30px '+FONT,'#000'));
tagDefs.forEach(t=>{
  const y=chart.convertToPixel({yAxisIndex:t[0]}, parseFloat(t[1]));
  const col=TC[t[2]], bold=(t[1]==='62699.80');
  G.push({type:'polygon',z:60,silent:true,shape:{points:[[1516,y],[1521,y-6],[1564,y-6],[1564,y+6],[1521,y+6]]},style:{fill:'#fff',stroke:col,lineWidth:bold?1.6:1}});
  const tt=txt(1522,y,t[1],(bold?'bold ':'')+'10px '+FONT,col); tt.z=61; G.push(tt);
});
chart.setOption({graphic:{elements:G}});
</script>
</body></html>
